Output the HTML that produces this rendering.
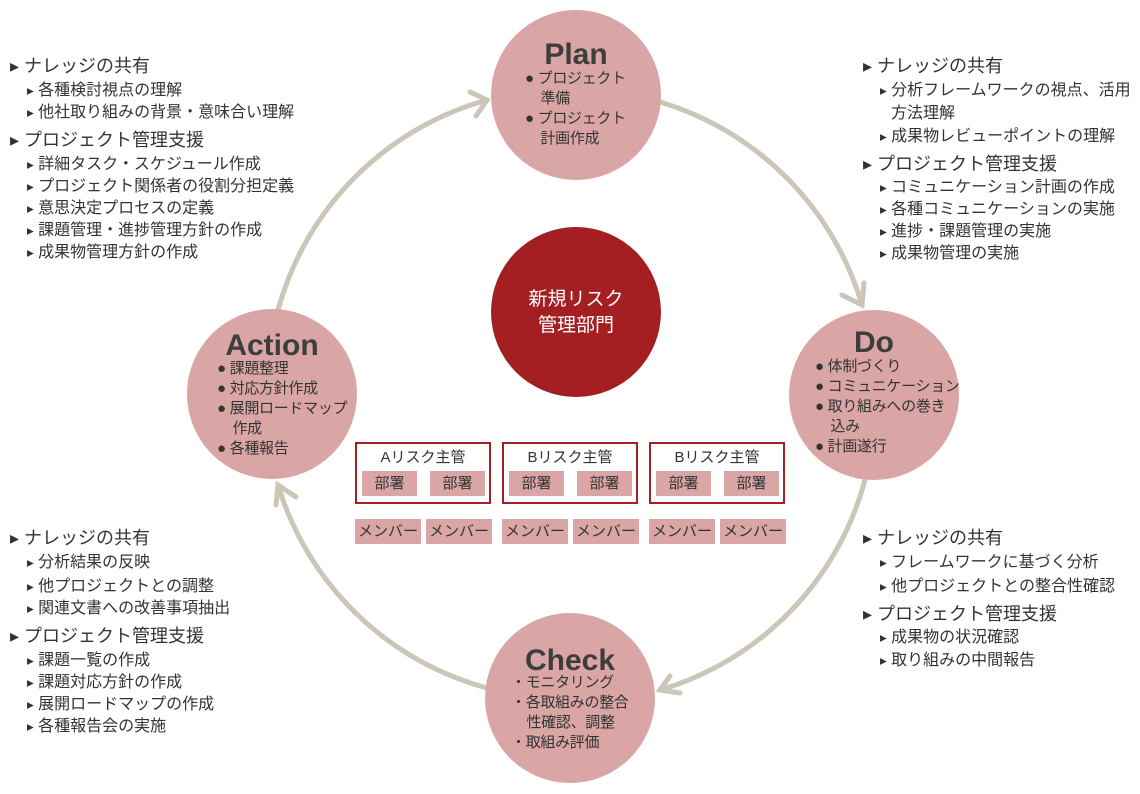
<!DOCTYPE html>
<html><head><meta charset="utf-8"><style>
body{margin:0;width:1140px;height:794px;background:#fff;position:relative;overflow:hidden;font-family:"Liberation Sans","Noto Sans CJK JP",sans-serif;color:#333}
.t{position:absolute;white-space:nowrap;line-height:22px}
.l1{font-size:18px}.l2{font-size:16px}
.c{position:absolute;border-radius:50%;background:#d9a5a5}
.h{position:absolute;font-weight:bold;font-size:30px;color:#3d3d3d;text-align:center;width:100%}
.b{position:absolute;font-size:15px;line-height:20px;color:#333;white-space:nowrap;letter-spacing:-0.3px}
.box{position:absolute;border:2px solid #a32024;width:132px;height:58px;background:#fff}
.pk{position:absolute;background:#d9a5a5;font-size:15px;text-align:center;line-height:25px;color:#333}
</style></head><body>
<svg width="1140" height="794" style="position:absolute;left:0;top:0">
<g fill="none" stroke="#ccc6b8" stroke-width="5" stroke-linecap="round">
<path d="M660 102 A300 300 0 0 1 862 305"/>
<path d="M865 480 A300 300 0 0 1 660 690"/>
<path d="M487 688 A300 300 0 0 1 278 485"/>
<path d="M278 310 A300 300 0 0 1 487 100"/>
<path d="M842 295 L862 305 L864 283"/>
<path d="M670 676 L660 690 L680 693"/>
<path d="M276 505 L278 485 L296 497"/>
<path d="M470 92 L487 100 L476 116"/>
</g></svg>
<div class="c" style="left:491px;top:10px;width:170px;height:170px"><div class="h" style="top:28px">Plan</div>
<div class="b" style="left:34px;top:59px">● プロジェクト<br>&nbsp;&nbsp;&nbsp;&nbsp;準備<br>● プロジェクト<br>&nbsp;&nbsp;&nbsp;&nbsp;計画作成</div></div>
<div class="c" style="left:789px;top:310px;width:170px;height:170px"><div class="h" style="top:16px">Do</div>
<div class="b" style="left:26px;top:47px">● 体制づくり<br>● コミュニケーション<br>● 取り組みへの巻き<br>&nbsp;&nbsp;&nbsp;&nbsp;込み<br>● 計画遂行</div></div>
<div class="c" style="left:485px;top:613px;width:170px;height:170px"><div class="h" style="top:31px">Check</div>
<div class="b" style="left:26px;top:60px">・モニタリング<br>・各取組みの整合<br>&nbsp;&nbsp;&nbsp;&nbsp;性確認、調整<br>・取組み評価</div></div>
<div class="c" style="left:187px;top:309px;width:170px;height:170px"><div class="h" style="top:20px">Action</div>
<div class="b" style="left:30px;top:50px">● 課題整理<br>● 対応方針作成<br>● 展開ロードマップ<br>&nbsp;&nbsp;&nbsp;&nbsp;作成<br>● 各種報告</div></div>
<div class="c" style="left:491px;top:227px;width:170px;height:170px;background:#a31f22;color:#fff;font-size:19px;line-height:26px;text-align:center"><div style="margin-top:60px">新規リスク<br>管理部門</div></div>

<div class="box" style="left:355px;top:442px"></div>
<div class="box" style="left:502px;top:442px"></div>
<div class="box" style="left:649px;top:442px"></div>
<div class="t l2" style="left:357px;top:447px;width:132px;text-align:center;font-size:15px">Aリスク主管</div>
<div class="t l2" style="left:504px;top:447px;width:132px;text-align:center;font-size:15px">Bリスク主管</div>
<div class="t l2" style="left:651px;top:447px;width:132px;text-align:center;font-size:15px">Bリスク主管</div>
<div class="pk" style="left:362px;top:471px;width:55px">部署</div>
<div class="pk" style="left:430px;top:471px;width:55px">部署</div>
<div class="pk" style="left:509px;top:471px;width:55px">部署</div>
<div class="pk" style="left:577px;top:471px;width:55px">部署</div>
<div class="pk" style="left:656px;top:471px;width:55px">部署</div>
<div class="pk" style="left:724px;top:471px;width:55px">部署</div>
<div class="pk" style="left:355px;top:519px;width:66px">メンバー</div>
<div class="pk" style="left:426px;top:519px;width:66px">メンバー</div>
<div class="pk" style="left:502px;top:519px;width:66px">メンバー</div>
<div class="pk" style="left:573px;top:519px;width:66px">メンバー</div>
<div class="pk" style="left:649px;top:519px;width:66px">メンバー</div>
<div class="pk" style="left:720px;top:519px;width:66px">メンバー</div>

<!-- left top -->
<div class="t l1" style="left:10px;top:55px">▸ ナレッジの共有</div>
<div class="t l2" style="left:27px;top:80px"><small>▸</small> 各種検討視点の理解</div>
<div class="t l2" style="left:27px;top:102px"><small>▸</small> 他社取り組みの背景・意味合い理解</div>
<div class="t l1" style="left:10px;top:129px">▸ プロジェクト管理支援</div>
<div class="t l2" style="left:27px;top:154px"><small>▸</small> 詳細タスク・スケジュール作成</div>
<div class="t l2" style="left:27px;top:176px"><small>▸</small> プロジェクト関係者の役割分担定義</div>
<div class="t l2" style="left:27px;top:198px"><small>▸</small> 意思決定プロセスの定義</div>
<div class="t l2" style="left:27px;top:220px"><small>▸</small> 課題管理・進捗管理方針の作成</div>
<div class="t l2" style="left:27px;top:242px"><small>▸</small> 成果物管理方針の作成</div>
<!-- right top -->
<div class="t l1" style="left:863px;top:55px">▸ ナレッジの共有</div>
<div class="t l2" style="left:880px;top:80px"><small>▸</small> 分析フレームワークの視点、活用</div>
<div class="t l2" style="left:891px;top:103px">方法理解</div>
<div class="t l2" style="left:880px;top:126px"><small>▸</small> 成果物レビューポイントの理解</div>
<div class="t l1" style="left:863px;top:153px">▸ プロジェクト管理支援</div>
<div class="t l2" style="left:880px;top:177px"><small>▸</small> コミュニケーション計画の作成</div>
<div class="t l2" style="left:880px;top:199px"><small>▸</small> 各種コミュニケーションの実施</div>
<div class="t l2" style="left:880px;top:221px"><small>▸</small> 進捗・課題管理の実施</div>
<div class="t l2" style="left:880px;top:243px"><small>▸</small> 成果物管理の実施</div>
<!-- left bottom -->
<div class="t l1" style="left:10px;top:527px">▸ ナレッジの共有</div>
<div class="t l2" style="left:27px;top:552px"><small>▸</small> 分析結果の反映</div>
<div class="t l2" style="left:27px;top:576px"><small>▸</small> 他プロジェクトとの調整</div>
<div class="t l2" style="left:27px;top:598px"><small>▸</small> 関連文書への改善事項抽出</div>
<div class="t l1" style="left:10px;top:625px">▸ プロジェクト管理支援</div>
<div class="t l2" style="left:27px;top:650px"><small>▸</small> 課題一覧の作成</div>
<div class="t l2" style="left:27px;top:672px"><small>▸</small> 課題対応方針の作成</div>
<div class="t l2" style="left:27px;top:694px"><small>▸</small> 展開ロードマップの作成</div>
<div class="t l2" style="left:27px;top:716px"><small>▸</small> 各種報告会の実施</div>
<!-- right bottom -->
<div class="t l1" style="left:863px;top:527px">▸ ナレッジの共有</div>
<div class="t l2" style="left:880px;top:552px"><small>▸</small> フレームワークに基づく分析</div>
<div class="t l2" style="left:880px;top:576px"><small>▸</small> 他プロジェクトとの整合性確認</div>
<div class="t l1" style="left:863px;top:603px">▸ プロジェクト管理支援</div>
<div class="t l2" style="left:880px;top:627px"><small>▸</small> 成果物の状況確認</div>
<div class="t l2" style="left:880px;top:650px"><small>▸</small> 取り組みの中間報告</div>
</body></html>
